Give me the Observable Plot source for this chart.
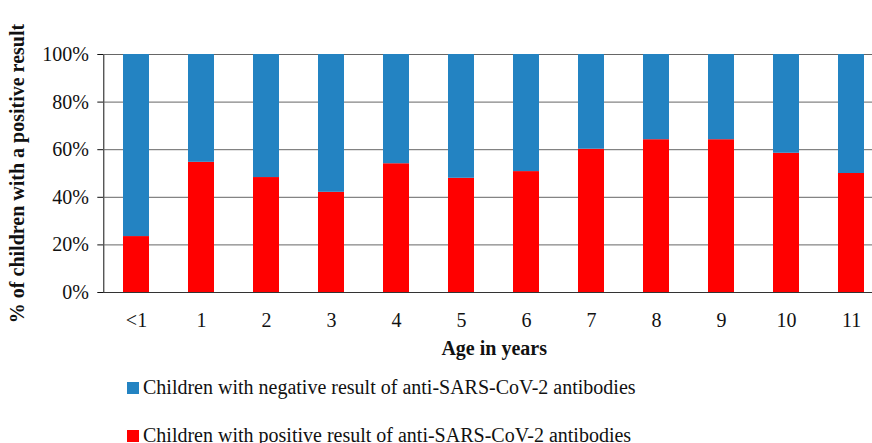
<!DOCTYPE html>
<html>
<head>
<meta charset="utf-8">
<script src="https://cdn.jsdelivr.net/npm/d3@7"></script>
<script src="https://cdn.jsdelivr.net/npm/@observablehq/plot@0.6"></script>
<style>
  html, body { margin: 0; padding: 0; background: white; }
  body { width: 872px; height: 443px; overflow: hidden; font-family: "Liberation Serif", "Times New Roman", serif; }
  #legend { margin-top: 5px; padding-left: 127px; font-size: 20px; color: #111; }
  #legend .row { line-height: 24px; height: 24px; white-space: nowrap; }
  #legend .row + .row { margin-top: 24px; }
  #legend .sw { display: inline-block; width: 12px; height: 12px; margin-right: 4px; vertical-align: baseline; }
</style>
</head>
<body>
<div id="chart"></div>
<div id="legend"></div>
<script>
const ages = ["<1", "1", "2", "3", "4", "5", "6", "7", "8", "9", "10", "11"];
const positive = [23.5, 54.7, 48.3, 42.1, 54.1, 48.0, 50.8, 60.2, 64.2, 64.2, 58.5, 50.0];
const negative = [76.5, 45.3, 51.7, 57.9, 45.9, 52.0, 49.2, 39.8, 35.8, 35.8, 41.5, 50.0];
const seriesNames = [
  "Children with negative result of anti-SARS-CoV-2 antibodies",
  "Children with positive result of anti-SARS-CoV-2 antibodies"
];
const seriesColors = ["#2383c2", "#ff0000"];
const yTicks = [0, 20, 40, 60, 80, 100];
const yTitle = "% of children with a positive result";
const xTitle = "Age in years";

const rows = [];
ages.forEach((a, i) => {
  rows.push({age: a, series: seriesNames[1], value: positive[i]});
  rows.push({age: a, series: seriesNames[0], value: negative[i]});
});

const svg = Plot.plot({
  width: 872,
  height: 370,
  marginTop: 54,
  marginBottom: 78,
  marginLeft: 103.3,
  marginRight: 0,
  style: {fontFamily: "Liberation Serif", fontSize: "20px", color: "#111", background: "white"},
  x: {domain: ages, range: [103.3, 884.2], paddingInner: 0.6, paddingOuter: 0.3, tickSize: 0, tickPadding: 20, label: null},
  y: {domain: [0, 100], ticks: yTicks, tickFormat: d => d + "%", tickSize: 6, tickPadding: 9, label: null, line: true},
  color: {domain: seriesNames, range: seriesColors},
  marks: [
    Plot.ruleY(yTicks.filter(d => d > 0), {stroke: "#666", strokeWidth: 1}),
    Plot.barY(rows, {x: "age", y: "value", fill: "series", z: "series", inset: 0}),
    Plot.ruleY([0], {stroke: "#333"}),
    Plot.text([yTitle], {frameAnchor: "left", textAnchor: "middle", lineAnchor: "middle", rotate: -90, dx: -86, fontWeight: "bold", fontSize: 20, fill: "#111"}),
    Plot.text([xTitle], {frameAnchor: "bottom", textAnchor: "middle", lineAnchor: "middle", dy: 56, dx: 6, fontWeight: "bold", fontSize: 20, fill: "#111"})
  ]
});
document.getElementById("chart").appendChild(svg);

const legend = document.getElementById("legend");
seriesNames.forEach((name, i) => {
  const row = document.createElement("div");
  row.className = "row";
  const sw = document.createElement("span");
  sw.className = "sw";
  sw.style.background = seriesColors[i];
  row.appendChild(sw);
  row.appendChild(document.createTextNode(name));
  legend.appendChild(row);
});
</script>
</body>
</html>
